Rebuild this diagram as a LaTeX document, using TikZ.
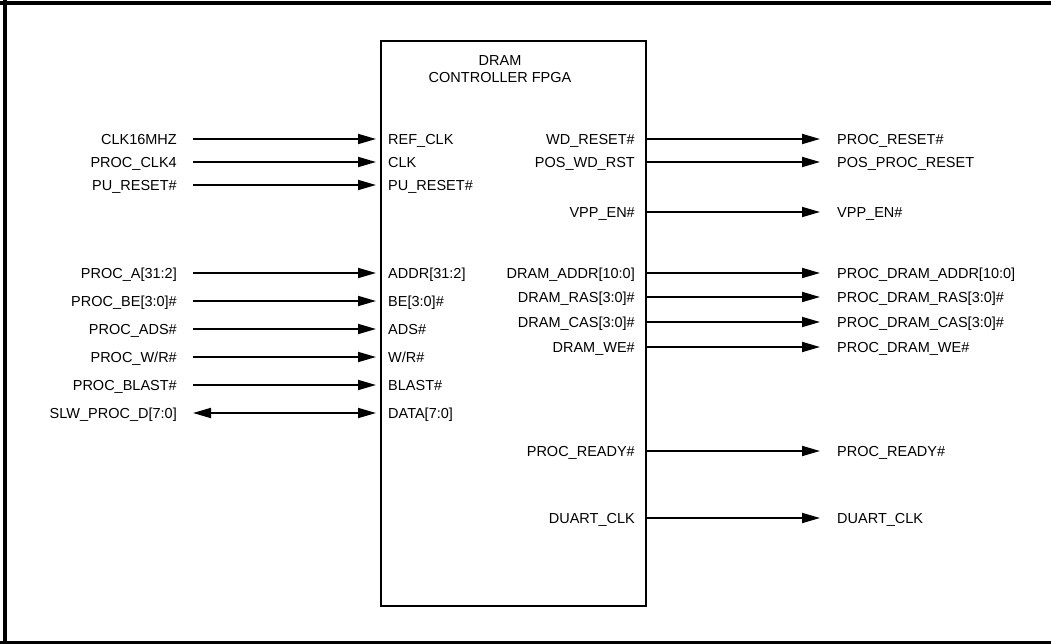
\documentclass[tikz,border=0pt]{standalone}
\usepackage{fontspec}
\setmainfont{Liberation Sans}
\usetikzlibrary{arrows.meta}
\tikzset{
  lbl/.style={inner sep=0pt, text height=10.4pt, text depth=0pt, font=\fontsize{14.5}{17}\selectfont},
  sig/.style={line width=1.8pt, -{Triangle[length=18pt,width=10pt]}},
  bisig/.style={line width=1.8pt, {Triangle[length=18pt,width=10pt]}-{Triangle[length=18pt,width=10pt]}},
  frameline/.style={line width=3.5pt},
  chip/.style={draw, line width=1.8pt, inner sep=0pt, minimum width=265pt, minimum height=565pt, anchor=north west}
}
\begin{document}
\begin{tikzpicture}[x=1pt,y=-1pt]
\useasboundingbox (0,0) rectangle (1051,644);
% frame
\draw[frameline] (0,3) -- (1051,3);
\draw[frameline] (5,0) -- (5,644);
\draw[line width=3pt] (0,642.5) -- (1051,642.5);
% chip
\node[chip] (fpga) at (380,40) {};
\node[lbl, align=center] (title) at (500,77) {DRAM\\CONTROLLER FPGA};
% left inputs
\foreach \n/\y/\o/\i in {1/139/{CLK16MHZ}/{REF\_CLK},
                       2/162/{PROC\_CLK4}/{CLK},
                       3/185/{PU\_RESET\#}/{PU\_RESET\#},
                       4/273/{PROC\_A[31:2]}/{ADDR[31:2]},
                       5/301/{PROC\_BE[3:0]\#}/{BE[3:0]\#},
                       6/329/{PROC\_ADS\#}/{ADS\#},
                       7/357/{PROC\_W/R\#}/{W/R\#},
                       8/385/{PROC\_BLAST\#}/{BLAST\#}}{
  \node[lbl, anchor=east] (lo\n) at (177,\y) {\o};
  \node[lbl, anchor=west] (li\n) at (388,\y) {\i};
  \draw[sig] ([xshift=16pt]lo\n.east) -- ([xshift=-12pt]li\n.west);
}
\node[lbl, anchor=east] (lo9) at (177,413) {SLW\_PROC\_D[7:0]};
\node[lbl, anchor=west] (li9) at (388,413) {DATA[7:0]};
\draw[bisig] ([xshift=16pt]lo9.east) -- ([xshift=-12pt]li9.west);
% right outputs
\foreach \n/\y/\i/\o in {1/139/{WD\_RESET\#}/{PROC\_RESET\#},
                       2/162/{POS\_WD\_RST}/{POS\_PROC\_RESET},
                       3/212/{VPP\_EN\#}/{VPP\_EN\#},
                       4/273/{DRAM\_ADDR[10:0]}/{PROC\_DRAM\_ADDR[10:0]},
                       5/297/{DRAM\_RAS[3:0]\#}/{PROC\_DRAM\_RAS[3:0]\#},
                       6/322/{DRAM\_CAS[3:0]\#}/{PROC\_DRAM\_CAS[3:0]\#},
                       7/347/{DRAM\_WE\#}/{PROC\_DRAM\_WE\#},
                       8/451/{PROC\_READY\#}/{PROC\_READY\#},
                       9/518/{DUART\_CLK}/{DUART\_CLK}}{
  \node[lbl, anchor=east] (ri\n) at (635,\y) {\i};
  \node[lbl, anchor=west] (ro\n) at (837,\y) {\o};
  \draw[sig] (fpga.east |- ri\n.east) -- ([xshift=-17pt]ro\n.west);
}
\end{tikzpicture}
\end{document}
